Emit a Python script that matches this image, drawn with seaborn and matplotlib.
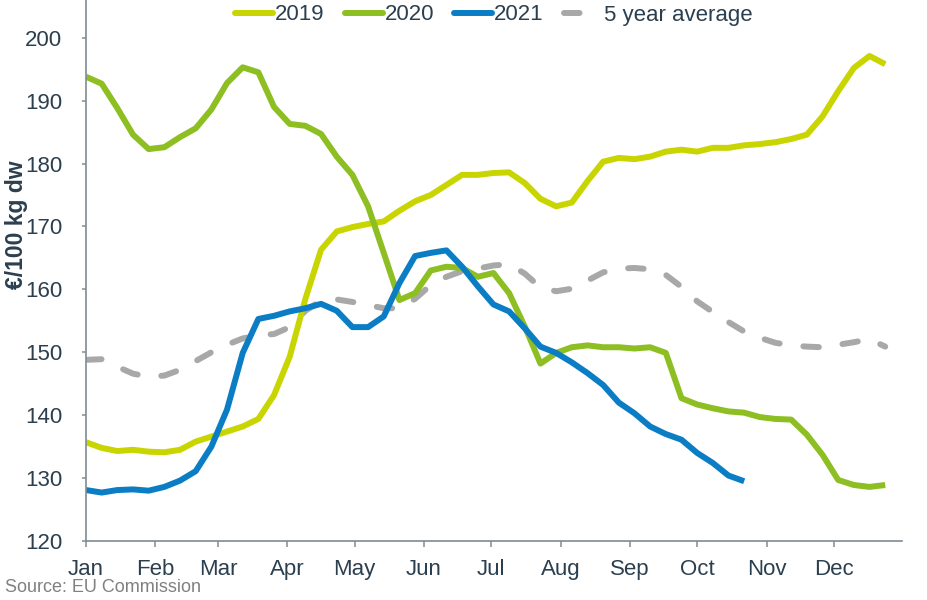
import numpy as np
import pandas as pd
import matplotlib
matplotlib.use("Agg")
import matplotlib.pyplot as plt
import seaborn as sns
from matplotlib.lines import Line2D

# ---- data (weekly prices, €/100 kg dw) ----
y2019 = [135.7, 134.8, 134.3, 134.5, 134.2, 134.1, 134.5, 135.8, 136.6, 137.4,
         138.2, 139.4, 143.2, 149.3, 158.5, 166.3, 169.2, 169.9, 170.4, 170.8,
         172.5, 174.0, 175.0, 176.6, 178.2, 178.2, 178.5, 178.6, 176.9, 174.4,
         173.2, 173.8, 177.2, 180.3, 180.9, 180.7, 181.1, 181.9, 182.2, 181.9,
         182.5, 182.5, 182.9, 183.1, 183.4, 183.9, 184.6, 187.5, 191.5, 195.2,
         197.1, 195.8]
y2020 = [193.8, 192.7, 188.8, 184.6, 182.3, 182.6, 184.2, 185.6, 188.6, 192.8,
         195.3, 194.5, 189.0, 186.3, 186.0, 184.7, 181.1, 178.2, 173.2, 165.8,
         158.3, 159.4, 163.0, 163.6, 163.4, 162.0, 162.6, 159.4, 154.1, 148.2,
         149.9, 150.8, 151.1, 150.8, 150.8, 150.6, 150.8, 149.9, 142.7, 141.7,
         141.1, 140.6, 140.4, 139.7, 139.4, 139.3, 136.9, 133.7, 129.7, 128.9,
         128.6, 128.9]
y2021 = [128.1, 127.7, 128.1, 128.2, 128.0, 128.6, 129.6, 131.1, 135.0, 140.9,
         149.9, 155.3, 155.8, 156.5, 157.0, 157.7, 156.6, 154.0, 154.0, 155.7,
         161.0, 165.3, 165.8, 166.2, 163.6, 160.5, 157.6, 156.5, 153.8, 150.9,
         149.9, 148.4, 146.7, 144.8, 142.0, 140.3, 138.2, 137.0, 136.1, 134.0,
         132.4, 130.4, 129.5]
avg5 = [148.8, 148.9, 147.7, 146.6, 146.1, 146.3, 147.2, 148.6, 150.0, 151.2,
        152.2, 152.7, 152.9, 154.0, 156.6, 158.2, 158.4, 158.0, 157.5, 157.0,
        157.0, 158.5, 160.7, 162.0, 162.9, 163.3, 163.8, 164.0, 162.5, 160.3,
        159.7, 160.1, 161.4, 162.7, 163.3, 163.4, 163.2, 162.3, 160.4, 158.1,
        156.4, 154.8, 153.3, 152.3, 151.5, 151.1, 150.9, 150.8, 151.2, 151.6,
        152.1, 150.9]

month_labels = ["Jan", "Feb", "Mar", "Apr", "May", "Jun",
                "Jul", "Aug", "Sep", "Oct", "Nov", "Dec"]
month_start_days = [0, 31, 59, 90, 120, 151, 181, 212, 243, 273, 304, 334]
y_ticks = [120, 130, 140, 150, 160, 170, 180, 190, 200]

series = {"2019": y2019, "2020": y2020, "2021": y2021, "5 year average": avg5}
colors = {"2019": "#C9D500", "2020": "#8DBE22", "2021": "#0B7DC4",
          "5 year average": "#A8A8A8"}

rows = []
for name, vals in series.items():
    for i, v in enumerate(vals):
        rows.append({"day": 7 * i, "value": v, "series": name})
df = pd.DataFrame(rows)

# ---- style ----
sns.set_theme(style="white")
plt.rcParams["font.family"] = ["Liberation Sans", "DejaVu Sans"]
text_color = "#2B3F4E"
axis_color = "#7F8C94"

fig = plt.figure(figsize=(9.28, 6.0), dpi=100)
ax = fig.add_axes([86 / 928, 59 / 600, (902 - 86) / 928, 1 - 59 / 600])

lw = 4.3
for name in ["5 year average", "2019", "2020", "2021"]:
    sub = df[df["series"] == name]
    sns.lineplot(data=sub, x="day", y="value", ax=ax, color=colors[name],
                 linewidth=lw, legend=False)
    line = ax.lines[-1]
    line.set_solid_joinstyle("round")
    line.set_solid_capstyle("butt")
    if name == "5 year average":
        line.set_linestyle((0, (2.6, 4.0)))
        line.set_dash_capstyle("round")

ax.set_xlim(0, 364.5)
ax.set_ylim(120, 206)
ax.set_xticks(month_start_days)
ax.set_xticklabels(month_labels)
ax.set_yticks(y_ticks)
ax.set_xlabel("")
ax.set_ylabel("")

for side in ["top", "right"]:
    ax.spines[side].set_visible(False)
for side in ["left", "bottom"]:
    ax.spines[side].set_color(axis_color)
    ax.spines[side].set_linewidth(1.2)

ax.tick_params(axis="x", which="both", direction="out", length=4, width=1.1,
               color=axis_color, labelsize=16, labelcolor=text_color, pad=9,
               bottom=True)
ax.tick_params(axis="y", which="both", direction="out", length=3, width=1.1,
               color=axis_color, labelsize=16, labelcolor=text_color, pad=14,
               left=True)

fig.text(17 / 928, 1 - 225 / 600, "€/100 kg dw", rotation=90, ha="center",
         va="center", fontsize=16.5, fontweight="bold", color=text_color)
fig.text(5 / 928, 1 - 588 / 600, "Source: EU Commission", ha="left",
         va="center", fontsize=13, color="#808080")

handles = []
for name in ["2019", "2020", "2021", "5 year average"]:
    h = Line2D([0], [0], color=colors[name], linewidth=lw,
               solid_capstyle="round")
    if name == "5 year average":
        h.set_linestyle((0, (2.6, 4.0)))
        h.set_dash_capstyle("round")
    handles.append(h)
leg = fig.legend(handles=handles, labels=["2019", "2020", "2021", "5 year average"],
                 loc="center", bbox_to_anchor=(494 / 928, 1 - 15 / 600), ncol=4,
                 frameon=False, fontsize=16, handlelength=1.7, handletextpad=0.1,
                 columnspacing=0.9, borderpad=0.0)
for t in leg.get_texts():
    t.set_color(text_color)

fig.savefig("out.png", dpi=100)
